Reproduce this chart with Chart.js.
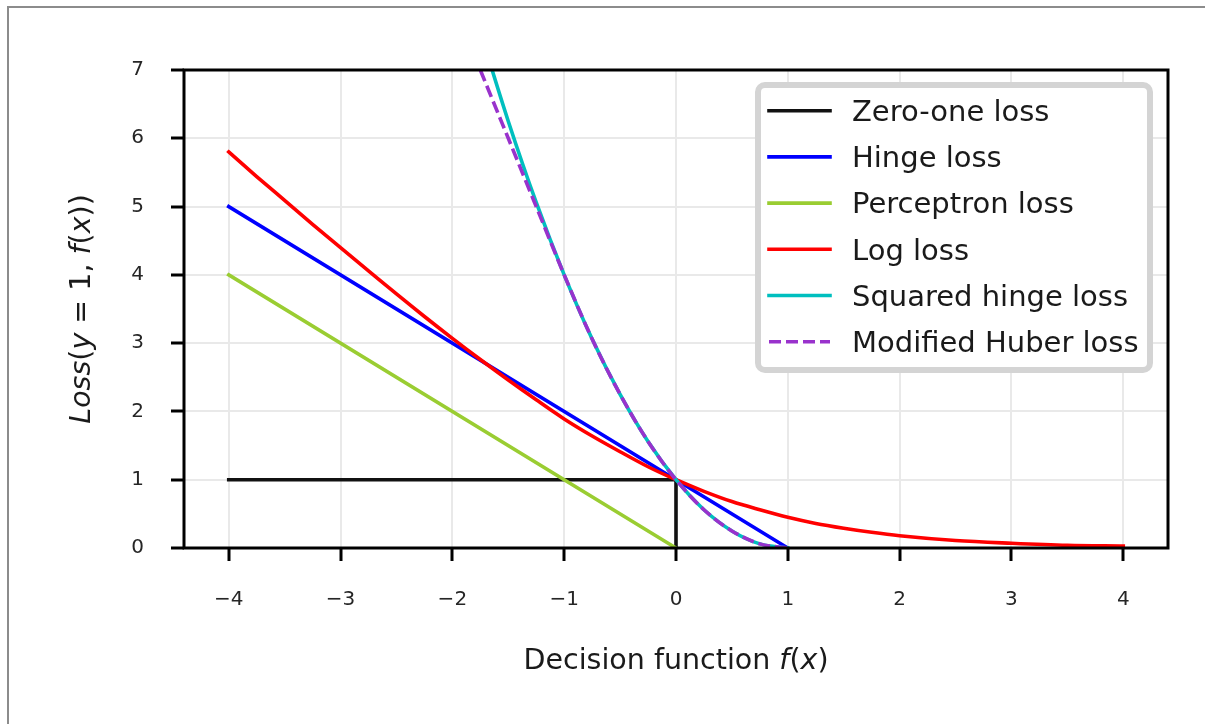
<!DOCTYPE html>
<html>
<head>
<meta charset="utf-8">
<script src="https://cdn.jsdelivr.net/npm/chart.js@4/dist/chart.umd.min.js"></script>
<style>
  html, body { margin: 0; padding: 0; background: #fff; }
  #wrap { position: relative; width: 1205px; height: 724px; overflow: hidden; }
  #frame { position: absolute; left: 7px; top: 6px; right: 0; bottom: 0;
           border-left: 2px solid #8c8c8c; border-top: 2px solid #8c8c8c; pointer-events: none; }
  canvas { display: block; }
</style>
</head>
<body>
<div id="wrap">
  <canvas id="c" width="1205" height="724"></canvas>
  <div id="frame"></div>
</div>
<script>
// Tick positions
const xTicks = [-4, -3, -2, -1, 0, 1, 2, 3, 4];
const yTicks = [0, 1, 2, 3, 4, 5, 6, 7];

// Series names
const seriesNames = ['Zero-one loss', 'Hinge loss', 'Perceptron loss', 'Log loss', 'Squared hinge loss', 'Modified Huber loss'];

// Zero-one loss
const zeroOneX = [-4, 0, 0];
const zeroOneY = [1, 1, 0];

// Hinge loss
const hingeX = [-4, 1];
const hingeY = [5, 0];

// Perceptron loss
const perceptronX = [-4, 0];
const perceptronY = [4, 0];

// Log loss
const logX = [-4, -3.75, -3.5, -3.25, -3, -2.75, -2.5, -2.25, -2, -1.75, -1.5, -1.25, -1, -0.75, -0.5, -0.25,
              0, 0.25, 0.5, 0.75, 1, 1.25, 1.5, 1.75, 2, 2.5, 3, 3.5, 4];
const logY = [5.80, 5.44, 5.09, 4.74, 4.40, 4.06, 3.72, 3.39, 3.07, 2.76, 2.46, 2.17, 1.89, 1.64, 1.41, 1.19,
              1.00, 0.83, 0.68, 0.56, 0.45, 0.36, 0.29, 0.23, 0.18, 0.11, 0.07, 0.04, 0.03];

// Squared hinge loss
const sqHingeX = [-1.75, -1.5, -1.25, -1, -0.75, -0.5, -0.25, 0, 0.25, 0.5, 0.75, 1];
const sqHingeY = [7.56, 6.25, 5.06, 4.00, 3.06, 2.25, 1.56, 1.00, 0.56, 0.25, 0.06, 0];

// Modified Huber loss
const huberX = [-1.75, -1.5, -1.25, -1, -0.75, -0.5, -0.25, 0, 0.25, 0.5, 0.75, 1];
const huberY = [7.00, 6.00, 5.00, 4.00, 3.06, 2.25, 1.56, 1.00, 0.56, 0.25, 0.06, 0];

const FONT = '"DejaVu Sans", "Liberation Sans", sans-serif';
Chart.defaults.font.family = FONT;

const LW = 3.6;
const pts = (xs, ys) => xs.map((x, i) => ({ x: x, y: ys[i] }));
const fmt = v => (v < 0 ? '\u2212' + Math.abs(v) : String(v));

const datasets = [
  { label: seriesNames[0], data: pts(zeroOneX, zeroOneY), borderColor: '#111111', order: 6 },
  { label: seriesNames[1], data: pts(hingeX, hingeY), borderColor: '#0000ff', order: 5 },
  { label: seriesNames[2], data: pts(perceptronX, perceptronY), borderColor: '#9acd32', order: 4 },
  { label: seriesNames[3], data: pts(logX, logY), borderColor: '#ff0000', order: 3, cubicInterpolationMode: 'monotone' },
  { label: seriesNames[4], data: pts(sqHingeX, sqHingeY), borderColor: '#00bfbf', order: 2, cubicInterpolationMode: 'monotone' },
  { label: seriesNames[5], data: pts(huberX, huberY), borderColor: '#9932cc', order: 1, cubicInterpolationMode: 'monotone',
    borderDash: [12, 5], borderCapStyle: 'butt' }
].map(d => Object.assign({ borderWidth: LW, pointRadius: 0, fill: false }, d));

// Draws a run of text pieces, each upright or italic, centred on the origin
function drawRich(ctx, parts, size) {
  const fonts = parts.map(p => (p[1] ? 'italic ' : '') + size + 'px ' + FONT);
  let total = 0;
  const widths = parts.map((p, i) => { ctx.font = fonts[i]; const w = ctx.measureText(p[0]).width; total += w; return w; });
  let x = -total / 2;
  parts.forEach((p, i) => {
    ctx.font = fonts[i];
    ctx.fillText(p[0], x, 0);
    x += widths[i];
  });
}

const decorations = {
  id: 'decorations',
  afterDatasetsDraw(chart) {
    const { ctx, chartArea: a } = chart;
    ctx.save();
    ctx.strokeStyle = '#000';
    ctx.lineWidth = 3;
    ctx.strokeRect(a.left, a.top, a.right - a.left, a.bottom - a.top);
    ctx.restore();
  },
  afterDraw(chart) {
    const { ctx, chartArea: a } = chart;

    // Legend box inside the plot area, upper right
    const bx = a.right - 410, by = a.top + 15, bw = 392, bh = 285, r = 7;
    ctx.save();
    ctx.beginPath();
    ctx.moveTo(bx + r, by);
    ctx.arcTo(bx + bw, by, bx + bw, by + bh, r);
    ctx.arcTo(bx + bw, by + bh, bx, by + bh, r);
    ctx.arcTo(bx, by + bh, bx, by, r);
    ctx.arcTo(bx, by, bx + bw, by, r);
    ctx.closePath();
    ctx.fillStyle = '#ffffff';
    ctx.fill();
    ctx.strokeStyle = '#d4d4d4';
    ctx.lineWidth = 6;
    ctx.stroke();

    ctx.font = '29px ' + FONT;
    ctx.textBaseline = 'alphabetic';
    chart.data.datasets.forEach((ds, i) => {
      const cy = by + 25.7 + i * 46.2;
      ctx.beginPath();
      ctx.setLineDash(ds.borderDash || []);
      ctx.lineCap = ds.borderDash ? 'butt' : 'square';
      ctx.strokeStyle = ds.borderColor;
      ctx.lineWidth = LW;
      ctx.moveTo(bx + 11, cy);
      ctx.lineTo(bx + 72, cy);
      ctx.stroke();
      ctx.setLineDash([]);
      ctx.fillStyle = '#1a1a1a';
      ctx.fillText(ds.label, bx + 94, cy + 10.3);
    });
    ctx.restore();

    // Axis titles
    ctx.save();
    ctx.fillStyle = '#1a1a1a';
    ctx.textBaseline = 'alphabetic';
    ctx.textAlign = 'left';
    ctx.translate((a.left + a.right) / 2, a.bottom + 121);
    drawRich(ctx, [['Decision function ', 0], ['f', 1], ['(', 0], ['x', 1], [')', 0]], 28.5);
    ctx.restore();

    ctx.save();
    ctx.fillStyle = '#1a1a1a';
    ctx.textBaseline = 'alphabetic';
    ctx.textAlign = 'left';
    ctx.translate(a.left - 94, (a.top + a.bottom) / 2);
    ctx.rotate(-Math.PI / 2);
    drawRich(ctx, [['Loss', 1], ['(', 0], ['y', 1], [' = 1, ', 0], ['f', 1], ['(', 0], ['x', 1], ['))', 0]], 28.5);
    ctx.restore();
  }
};

const axisCommon = {
  type: 'linear',
  border: { display: false },
  grid: { color: '#e9e9e9', lineWidth: 2, tickColor: '#000', tickWidth: 3, tickLength: 13 },
  ticks: { padding: 27, color: '#262626', font: { size: 20 }, autoSkip: false, maxRotation: 0, callback: fmt }
};

new Chart(document.getElementById('c'), {
  type: 'line',
  data: { datasets: datasets },
  options: {
    responsive: false,
    animation: false,
    events: [],
    layout: { padding: { left: 0, top: 70, right: 37, bottom: 0 } },
    plugins: { legend: { display: false }, tooltip: { enabled: false } },
    elements: {
      point: { radius: 0 },
      line: { borderJoinStyle: 'round', borderCapStyle: 'square' }
    },
    scales: {
      x: Object.assign({}, axisCommon, {
        min: -4.4, max: 4.4,
        afterBuildTicks: s => { s.ticks = xTicks.map(v => ({ value: v })); },
        afterFit: s => { s.height = 176; }
      }),
      y: Object.assign({}, axisCommon, {
        min: 0, max: 7,
        afterBuildTicks: s => { s.ticks = yTicks.map(v => ({ value: v })); },
        afterFit: s => { s.width = 184; }
      })
    }
  },
  plugins: [decorations]
});
</script>
</body>
</html>
